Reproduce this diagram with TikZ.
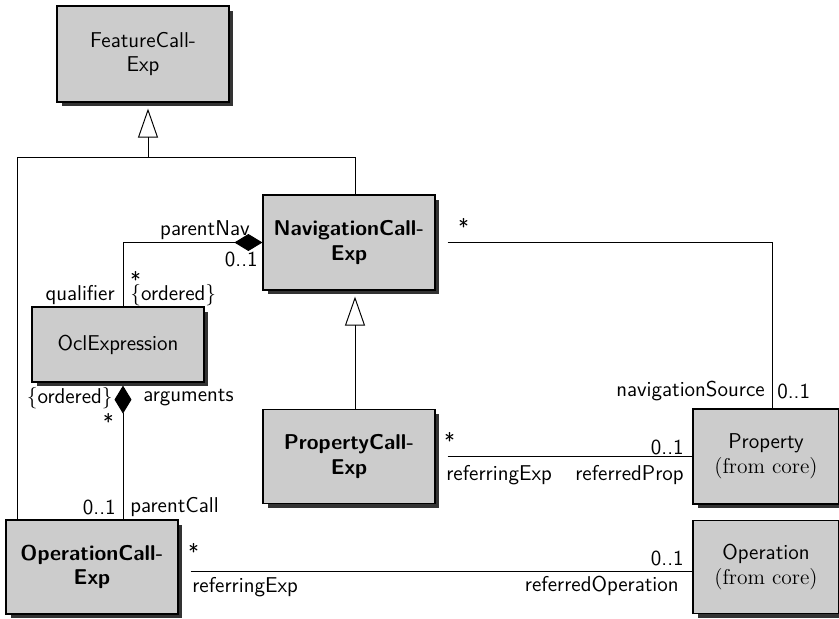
\documentclass[tikz,border=0pt]{standalone}
\usepackage{tikz}
\usetikzlibrary{arrows.meta,shadows}

\definecolor{boxgray}{gray}{0.8}
\newcommand{\umltext}{\fontsize{12.2}{14}\selectfont\sffamily}

\begin{document}
\begin{tikzpicture}[x=0.02cm,y=-0.02cm,font=\umltext,
    umlclass/.style={draw,line width=0.7pt,fill=boxgray,align=center,inner sep=2pt,
      minimum width=3.44cm,
      drop shadow={shadow xshift=0.09cm,shadow yshift=-0.09cm,fill=black!80,opacity=1}},
    boldclass/.style={umlclass,font=\umltext\bfseries},
    lbl/.style={inner sep=0pt},
    multstar/.style={lbl,text depth=-0.3em},
    assoc/.style={line width=0.55pt},
    gen/.style={assoc,-{Triangle[open,length=0.58cm,width=0.4cm]}},
    comp/.style={assoc,-{Diamond[length=0.56cm,width=0.34cm]}}]
    \useasboundingbox (0,0) rectangle (839,619);

    % Classes
    \node[umlclass,minimum height=1.92cm] (feat) at (143,54) {FeatureCall-\\Exp};
    \node[boldclass,minimum height=1.9cm] (nav) at (349,242.5) {NavigationCall-\\Exp};
    \node[umlclass,minimum height=1.5cm] (ocl) at (118,344.5) {OclExpression};
    \node[boldclass,minimum height=1.88cm] (propcall) at (349,456.5) {PropertyCall-\\Exp};
    \node[boldclass,minimum height=1.88cm] (opcall) at (92,567) {OperationCall-\\Exp};
    \node[umlclass,minimum width=2.92cm,minimum height=1.9cm] (property) at (766,456.5)
        {Property\\{\rmfamily (from core)}};
    \node[umlclass,minimum width=2.92cm,minimum height=1.86cm] (operation) at (766,567)
        {Operation\\{\rmfamily (from core)}};

    % Helper points
    \coordinate (jl) at (17,157);
    \coordinate (jm) at (148,157);
    \coordinate (jr) at (355,157);
    \coordinate (qx) at (123,244);
    \coordinate (sx) at (772,244);

    % Generalizations
    \draw[assoc] (opcall.north -| jl) |- (jr) -- (nav.north -| jr);
    \draw[gen,shorten >=0.12cm] (jm) -- (feat.south -| jm);
    \draw[gen,shorten >=0.12cm] (propcall.north -| jr) -- (nav.south -| jr);

    % Compositions
    \draw[comp] (ocl.north -| qx) |- (nav.west);
    \draw[comp,shorten >=0.06cm] (opcall.north -| qx) -- (ocl.south -| qx);

    % Associations
    \draw[assoc,shorten <=0.24cm] (nav.east) -| (property.north -| sx);
    \draw[assoc,shorten <=0.24cm] (propcall.east) -- (property.west);
    \draw[assoc,shorten <=0.24cm] ([yshift=-0.08cm]opcall.east) -- ([yshift=-0.08cm]operation.west);

    % Role names and multiplicities
    \node[lbl,anchor=east] (pnav) at (250,230) {parentNav};
    \node[lbl,anchor=east] (pnavm) at (258,259) {0..1};
    \node[lbl,anchor=south west,align=left] (qualo) at (130,306) {*\\[-7pt]\{ordered\}};
    \node[lbl,anchor=east] (qual) at (115,295) {qualifier};
    \node[lbl,anchor=east] (argo) at (113,398) {\{ordered\}};
    \node[lbl,anchor=west] (arg) at (143,398) {arguments};
    \node[multstar,anchor=east] (argm) at (114,421) {*};
    \node[lbl,anchor=east] (pcallm) at (116,507) {0..1};
    \node[lbl,anchor=west] (pcall) at (130,507) {parentCall};
    \node[multstar,anchor=west] (navm) at (458,226) {*};
    \node[lbl,anchor=east] (navsrc) at (765,391) {navigationSource};
    \node[lbl,anchor=west] (navsrcm) at (777,391) {0..1};
    \node[multstar,anchor=west] (pexpm) at (444,440) {*};
    \node[lbl,anchor=east] (propm) at (684,447) {0..1};
    \node[lbl,anchor=west] (pexp) at (446,475) {referringExp};
    \node[lbl,anchor=east] (prop) at (684,475) {referredProp};
    \node[multstar,anchor=west] (oexpm) at (188,551) {*};
    \node[lbl,anchor=west] (oexp) at (192,587) {referringExp};
    \node[lbl,anchor=east] (operm) at (684,558) {0..1};
    \node[lbl,anchor=east] (oper) at (679,586) {referredOperation};
\end{tikzpicture}
\end{document}
